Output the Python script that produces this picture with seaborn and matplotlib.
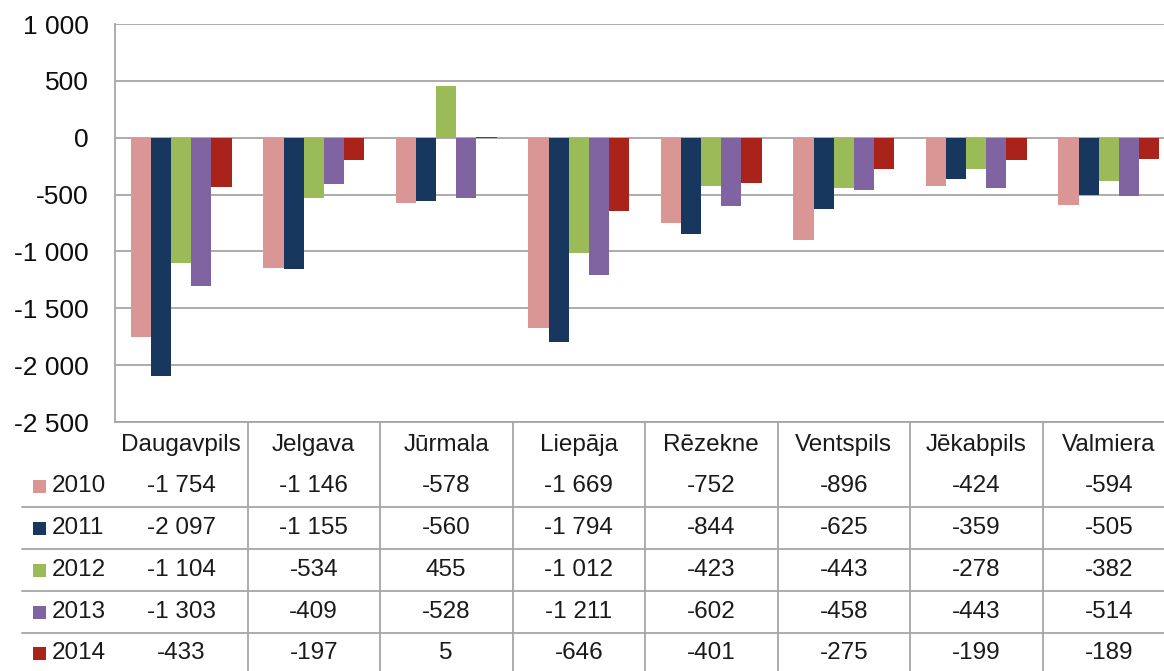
import matplotlib
matplotlib.use("Agg")
import matplotlib.pyplot as plt
import seaborn as sns
import pandas as pd
from matplotlib.transforms import blended_transform_factory
from matplotlib.lines import Line2D
from matplotlib.patches import Rectangle

cities = ["Daugavpils", "Jelgava", "Jūrmala", "Liepāja", "Rēzekne",
          "Ventspils", "Jēkabpils", "Valmiera"]
years = ["2010", "2011", "2012", "2013", "2014"]
v2010 = [-1754, -1146, -578, -1669, -752, -896, -424, -594]
v2011 = [-2097, -1155, -560, -1794, -844, -625, -359, -505]
v2012 = [-1104, -534, 455, -1012, -423, -443, -278, -382]
v2013 = [-1303, -409, -528, -1211, -602, -458, -443, -514]
v2014 = [-433, -197, 5, -646, -401, -275, -199, -189]
colors = ["#D99694", "#17375E", "#9BBB59", "#8064A2", "#A9231A"]

series = [v2010, v2011, v2012, v2013, v2014]
rows = []
for yr, vals in zip(years, series):
    for c, v in zip(cities, vals):
        rows.append({"city": c, "year": yr, "value": v})
df = pd.DataFrame(rows)


def fmt(v):
    return f"{int(v):,}".replace(",", " ")


sns.set_style("white")
plt.rcParams["font.family"] = ["Liberation Sans", "DejaVu Sans"]

W, H = 1164, 671
fig = plt.figure(figsize=(W / 100, H / 100), dpi=100)
ax = fig.add_axes([115 / W, 1 - 422 / H, 1060 / W, 398 / H])

sns.barplot(data=df, x="city", y="value", hue="year", order=cities,
            hue_order=years, palette=colors, width=0.76, saturation=1,
            linewidth=0, legend=False, ax=ax)

ax.set_xlim(-0.5, 7.5)
ax.set_ylim(-2500, 1000)
ticks = list(range(-2500, 1001, 500))
ax.set_yticks(ticks)
ax.set_yticklabels([fmt(t) for t in ticks])
ax.tick_params(axis="y", length=0, pad=19, labelsize=19, labelcolor="#0d0d0d")
ax.set_xticks([])
ax.set_xlabel("")
ax.set_ylabel("")
ax.yaxis.grid(True, color="#a6a6a6", lw=1.3)
ax.set_axisbelow(True)
for s in ["top", "right"]:
    ax.spines[s].set_visible(False)
for s in ["left", "bottom"]:
    ax.spines[s].set_color("#a6a6a6")
    ax.spines[s].set_linewidth(1.3)

# data table below the chart
trans = blended_transform_factory(ax.transData, fig.transFigure)
line_col = "#a6a6a6"
fy = lambda py: 1 - py / H
fs = 17.5
txt_col = "#1a1a1a"

for i in range(1, len(cities) + 1):
    ax.plot([i - 0.5, i - 0.5], [fy(423), fy(H + 2)], color=line_col, lw=1.3,
            transform=trans, clip_on=False)
for py in [507, 549, 591, 633]:
    fig.add_artist(Line2D([22 / W, 1.0], [fy(py), fy(py)], color=line_col, lw=1.3))

for i, c in enumerate(cities):
    ax.text(i, fy(445), c, transform=trans, ha="center", va="center",
            fontsize=fs, color=txt_col)

row_centers = [486, 528, 570, 612, 653]
for yr, vals, col, py in zip(years, series, colors, row_centers):
    fig.add_artist(Rectangle((33 / W, fy(py + 7)), 13 / W, 13 / H,
                             facecolor=col, edgecolor="none"))
    fig.text(52 / W, fy(py), yr, ha="left", va="center", fontsize=fs,
             color=txt_col)
    for i, v in enumerate(vals):
        ax.text(i, fy(py), fmt(v), transform=trans, ha="center", va="center",
                fontsize=fs, color=txt_col)

fig.savefig("out.png", dpi=100)
